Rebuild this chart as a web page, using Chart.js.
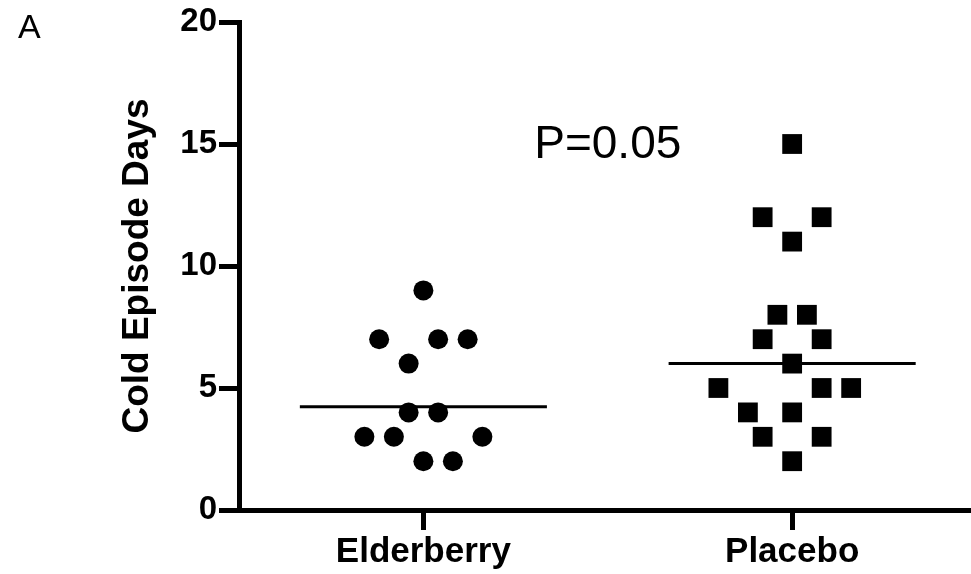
<!DOCTYPE html>
<html>
<head>
<meta charset="utf-8">
<script src="https://cdn.jsdelivr.net/npm/chart.js@4"></script>
<style>
  html, body { margin: 0; padding: 0; background: #fff; }
  #wrap { width: 971px; height: 574px; position: relative; }
</style>
</head>
<body>
<div id="wrap"><canvas id="chart"></canvas></div>
<script>
// data
const categories = ["Elderberry", "Placebo"];
const elderberryDays = [9, 7, 7, 7, 6, 4, 4, 3, 3, 3, 2, 2];
const elderberrySlot = [0, -3, 1, 3, -1, -1, 1, -4, -2, 4, 0, 2];
const placeboDays = [15, 12, 12, 11, 8, 8, 7, 7, 6, 5, 5, 5, 4, 4, 3, 3, 2];
const placeboSlot = [0, -2, 2, 0, -1, 1, -2, 2, 0, -5, 2, 4, -3, 0, -2, 2, 0];
const centerLines = [4.23, 6];
const yTicks = [0, 5, 10, 15, 20];
const panelLabel = "A";
const pValueLabel = "P=0.05";

const FONT = "'Liberation Sans', Arial, Helvetica, sans-serif";
const slotWidth = 0.04;   // horizontal spread of the dots
const lineHalf = 0.335;   // half length of the centre lines

function toPoints(days, slots, cat) {
  return days.map((d, i) => ({ x: cat + slots[i] * slotWidth, y: d }));
}

const lineSets = centerLines.map((v, i) => ({
  type: "line",
  data: [{ x: i + 1 - lineHalf, y: v }, { x: i + 1 + lineHalf, y: v }],
  borderColor: "#000",
  borderWidth: 3,
  pointRadius: 0,
  fill: false,
}));

// panel letter and p-value text
const textPlugin = {
  id: "texts",
  afterDraw(chart) {
    const ctx = chart.ctx;
    const x = chart.scales.x, y = chart.scales.y;
    ctx.save();
    ctx.fillStyle = "#000";
    ctx.font = "34px " + FONT;
    ctx.textAlign = "left";
    ctx.textBaseline = "alphabetic";
    ctx.fillText(panelLabel, 18, 38);
    ctx.font = "46px " + FONT;
    ctx.textAlign = "center";
    ctx.textBaseline = "middle";
    ctx.fillText(pValueLabel, x.getPixelForValue(1.5), y.getPixelForValue(15) + 1);
    ctx.restore();
  },
};

new Chart(document.getElementById("chart"), {
  type: "scatter",
  data: {
    datasets: [
      ...lineSets,
      {
        label: categories[0],
        data: toPoints(elderberryDays, elderberrySlot, 1),
        pointStyle: "circle",
        pointRadius: 10,
        backgroundColor: "#000",
        borderWidth: 0,
      },
      {
        label: categories[1],
        data: toPoints(placeboDays, placeboSlot, 2),
        pointStyle: "rect",
        pointRadius: 14,
        backgroundColor: "#000",
        borderWidth: 0,
      },
    ],
  },
  options: {
    responsive: true,
    maintainAspectRatio: false,
    animation: false,
    events: [],
    layout: { autoPadding: false, padding: { top: 22, right: 0, left: 0, bottom: 0 } },
    plugins: { legend: { display: false }, tooltip: { enabled: false } },
    scales: {
      x: {
        type: "linear",
        min: 0.5,
        max: 2.485,
        afterBuildTicks: (s) => { s.ticks = categories.map((c, i) => ({ value: i + 1 })); },
        afterFit: (s) => { s.height = 64; },
        grid: { drawOnChartArea: false, tickLength: 20, lineWidth: 5, color: "#000" },
        border: { width: 5, color: "#000" },
        ticks: {
          color: "#000",
          padding: 1,
          font: { family: FONT, size: 35, weight: "bold" },
          callback: (v) => categories[v - 1],
        },
      },
      y: {
        min: 0,
        max: 20,
        afterBuildTicks: (s) => { s.ticks = yTicks.map((v) => ({ value: v })); },
        afterFit: (s) => { s.width = 239; },
        grid: { drawOnChartArea: false, tickLength: 20, lineWidth: 5, color: "#000" },
        border: { width: 5, color: "#000" },
        ticks: {
          color: "#000",
          padding: 2,
          font: { family: FONT, size: 33, weight: "bold" },
        },
        title: {
          display: true,
          text: "Cold Episode Days",
          color: "#000",
          font: { family: FONT, size: 37, weight: "bold" },
          padding: { top: 116, bottom: 0 },
        },
      },
    },
  },
  plugins: [textPlugin],
});
</script>
</body>
</html>
